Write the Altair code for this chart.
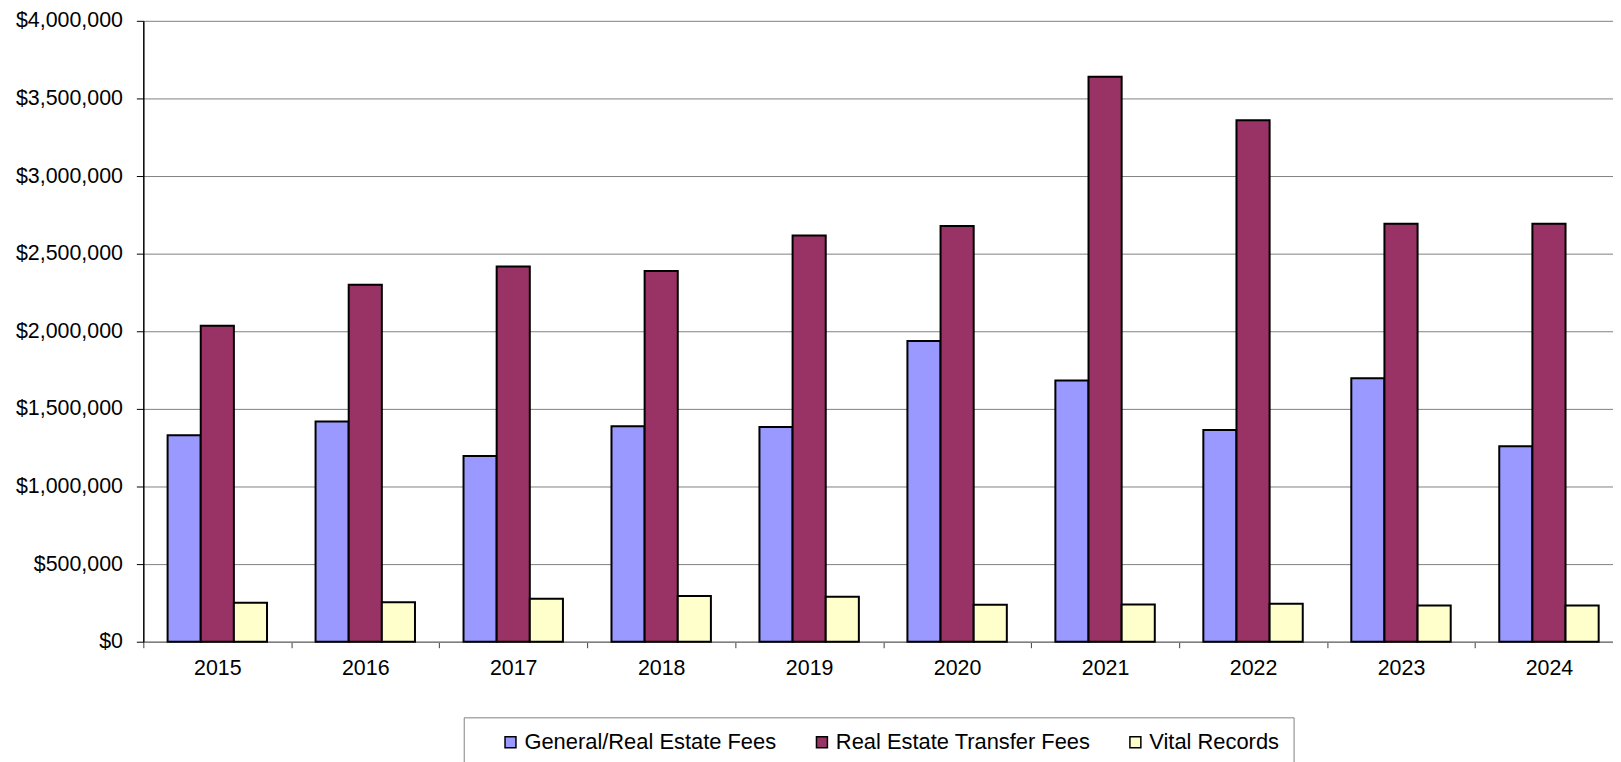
import altair as alt
import pandas as pd

years = ["2015", "2016", "2017", "2018", "2019", "2020", "2021", "2022", "2023", "2024"]
series = ["General/Real Estate Fees", "Real Estate Transfer Fees", "Vital Records"]
general = [1330000, 1418000, 1197000, 1388000, 1383000, 1937000, 1683000, 1364000, 1697000, 1260000]
transfer = [2035000, 2300000, 2418000, 2388000, 2617000, 2678000, 3640000, 3360000, 2693000, 2693000]
vital = [251000, 255000, 277000, 294000, 290000, 238000, 240000, 245000, 234000, 234000]
colors = ["#9999FF", "#993366", "#FFFFCC"]
y_ticks = [0, 500000, 1000000, 1500000, 2000000, 2500000, 3000000, 3500000, 4000000]

rows = []
for i, yr in enumerate(years):
    for s, vals in zip(series, [general, transfer, vital]):
        rows.append({"Year": yr, "Series": s, "Value": vals[i]})
df = pd.DataFrame(rows)

FONT = "Liberation Sans"

chart = alt.Chart(df).mark_bar(stroke="black", strokeWidth=2).encode(
    x=alt.X(
        "Year:N", sort=years,
        scale=alt.Scale(paddingInner=0, paddingOuter=0),
        axis=alt.Axis(
            title=None, labelAngle=0, tickBand="extent", ticks=True, tickSize=6,
            tickColor="#404040", domainColor="#808080", domainWidth=1.5,
            labelFont=FONT, labelFontSize=21.5, labelPadding=10, labelColor="black",
            grid=False,
        ),
    ),
    xOffset=alt.XOffset("Series:N", sort=series,
                        scale=alt.Scale(paddingInner=0, paddingOuter=0.7325)),
    y=alt.Y(
        "Value:Q",
        scale=alt.Scale(domain=[0, 4000000], nice=False),
        axis=alt.Axis(
            values=y_ticks, format="$,.0f", title=None, grid=True,
            gridColor="#808080", gridWidth=1, tickSize=7, tickColor="black",
            labelPadding=14, domainColor="black", domainWidth=1.5,
            labelFont=FONT, labelFontSize=21.5, labelColor="black",
        ),
    ),
    color=alt.Color(
        "Series:N", sort=series,
        scale=alt.Scale(domain=series, range=colors),
        legend=alt.Legend(
            title=None, orient="none", legendX=322, legendY=700,
            direction="horizontal", symbolType="square", symbolSize=121,
            symbolStrokeColor="black", symbolStrokeWidth=1.5, symbolOffset=22,
            labelOffset=3, columnPadding=12, padding=14, strokeColor="#808080",
            labelFont=FONT, labelFontSize=22, labelColor="black", labelLimit=0,
        ),
    ),
).properties(
    width=1487, height=624,
    padding={"left": 136, "top": 11, "right": -10, "bottom": 119},
    autosize=alt.AutoSizeParams(type="none"),
).configure_view(stroke=None)

chart.save("out.html", embed_options={"renderer": "svg", "actions": False})
